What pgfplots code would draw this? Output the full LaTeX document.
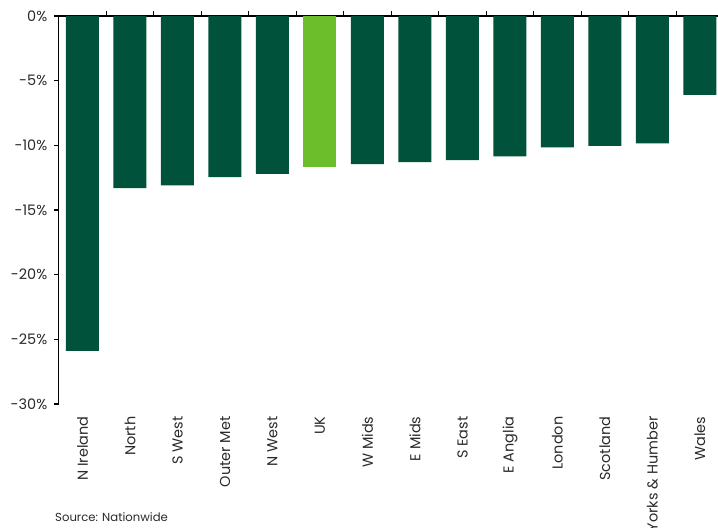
\documentclass[border=0pt]{standalone}
\usepackage{pgfplots}
\pgfplotsset{compat=1.18}
\usepackage{fontspec}
\setmainfont{Poppins}
\definecolor{dkg}{HTML}{00523A}
\definecolor{ltg}{HTML}{6CBE2A}
\definecolor{txt}{HTML}{2A2A2A}
\begin{document}
\begin{tikzpicture}
\useasboundingbox (-58.75bp,-124bp) rectangle (659.25bp,404bp);
\begin{axis}[
  at={(0,0)}, anchor=south west,
  scale only axis, width=659.25bp, height=388bp,
  xmin=-0.5, xmax=13.38, ymin=-30, ymax=0,
  axis x line=top, axis y line=left,
  axis line style={line width=1.3bp, -, black},
  tick align=outside,
  major tick length=5bp,
  every tick/.style={black, line width=1.3bp},
  xtick={0,1,...,13},
  xticklabels={N Ireland,North,S West,Outer Met,N West,UK,W Mids,E Mids,S East,E Anglia,London,Scotland,Yorks \& Humber,Wales},
  xtick style={draw=none},
  extra x ticks={0.5,1.5,...,12.5},
  extra x tick labels={},
  extra x tick style={xtick style={draw=black}},
  xticklabel shift=-402bp,
  xticklabel style={rotate=90, anchor=east, font=\fontsize{14.5}{16}\selectfont, text=txt},
  ytick={-30,-25,-20,-15,-10,-5,0},
  yticklabels={-30\%,-25\%,-20\%,-15\%,-10\%,-5\%,0\%},
  yticklabel style={font=\fontsize{14.5}{16}\selectfont, text=txt, xshift=-3bp},
  ybar, bar width=33bp,
  clip=false,
]
\addplot[fill=dkg, draw=none, bar shift=0pt] coordinates {
(0,-25.9) (1,-13.3) (2,-13.1) (3,-12.45) (4,-12.2) (6,-11.45) (7,-11.3) (8,-11.15) (9,-10.85) (10,-10.15) (11,-10.05) (12,-9.85) (13,-6.1)};
\addplot[fill=ltg, draw=none, bar shift=0pt] coordinates {(5,-11.7)};
\end{axis}
\node[anchor=base west, font=\fontsize{11.7}{13}\selectfont, text=txt, inner sep=0pt] at (-3.75bp,-117bp) {Source: Nationwide};
\end{tikzpicture}
\end{document}
